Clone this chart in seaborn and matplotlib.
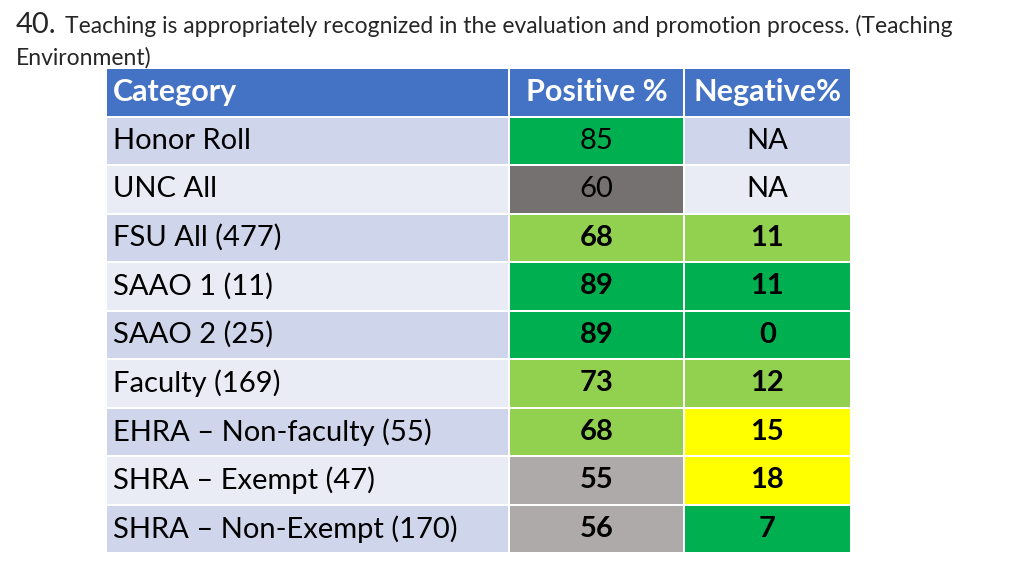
import matplotlib
matplotlib.use("Agg")
import matplotlib.pyplot as plt
import seaborn as sns
import numpy as np
from matplotlib.colors import ListedColormap

# data
header = ["Category", "Positive %", "Negative%"]
categories = ["Honor Roll", "UNC All", "FSU All (477)", "SAAO 1 (11)", "SAAO 2 (25)",
              "Faculty (169)", "EHRA \u2013 Non-faculty (55)", "SHRA \u2013 Exempt (47)",
              "SHRA \u2013 Non-Exempt (170)"]
positive = ["85", "60", "68", "89", "89", "73", "68", "55", "56"]
negative = ["NA", "NA", "11", "11", "0", "12", "15", "18", "7"]
# cell fill class per row
positive_fill = ["green", "darkgray", "lightgreen", "green", "green", "lightgreen",
                 "lightgreen", "gray", "gray"]
negative_fill = ["band", "band", "lightgreen", "green", "green", "lightgreen",
                 "yellow", "yellow", "green"]
bold_rows = [False, False, True, True, True, True, True, True, True]

palette = {"header": "#4472C4", "band_dark": "#CFD5EA", "band_light": "#E9EBF5",
           "green": "#00B050", "lightgreen": "#92D050", "darkgray": "#767171",
           "gray": "#AEAAAA", "yellow": "#FFFF00"}
names = list(palette.keys())
cmap = ListedColormap([palette[n] for n in names])

def band(i):
    return "band_dark" if i % 2 == 0 else "band_light"

def codes_for(fills):
    out = [names.index("header")]
    for i, f in enumerate(fills):
        out.append(names.index(band(i) if f == "band" else f))
    return np.array(out).reshape(-1, 1)

cat_codes = codes_for(["band"] * len(categories))
pos_codes = codes_for(positive_fill)
neg_codes = codes_for(negative_fill)

sns.set_theme(style="white")
plt.rcParams["font.family"] = ["Lato", "DejaVu Sans"]

fig = plt.figure(figsize=(10.24, 5.76), dpi=100)
gs = fig.add_gridspec(1, 3, width_ratios=[403, 175, 167], wspace=0,
                      left=106 / 1024, right=851 / 1024, top=1 - 68 / 576, bottom=1 - 553 / 576)

columns = [(cat_codes, [header[0]] + categories, "left"),
           (pos_codes, [header[1]] + positive, "center"),
           (neg_codes, [header[2]] + negative, "center")]
fs = 21
for k, (codes, labels, align) in enumerate(columns):
    ax = fig.add_subplot(gs[0, k])
    sns.heatmap(codes, ax=ax, cmap=cmap, vmin=-0.5, vmax=len(names) - 0.5, cbar=False,
                linewidths=1.2, linecolor="white", xticklabels=False, yticklabels=False)
    for r, lab in enumerate(labels):
        x = 0.018 if align == "left" else 0.5
        if r == 0:
            ax.text(x, r + 0.5, lab, ha=align, va="center", fontsize=fs + 1, color="white",
                    fontweight="bold")
        else:
            weight = "bold" if (k > 0 and bold_rows[r - 1]) else "normal"
            ax.text(x, r + 0.5, lab, ha=align, va="center", fontsize=fs, color="black",
                    fontweight=weight)

fig.text(16 / 1024, 1 - 25 / 576, "40.", fontsize=21, va="center", ha="left")
fig.text(65 / 1024, 1 - 26 / 576,
         "Teaching is appropriately recognized in the evaluation and promotion process. (Teaching",
         fontsize=16.5, va="center", ha="left")
fig.text(16 / 1024, 1 - 58 / 576, "Environment)", fontsize=16.5, va="center", ha="left")

fig.savefig("out.png", dpi=100)
